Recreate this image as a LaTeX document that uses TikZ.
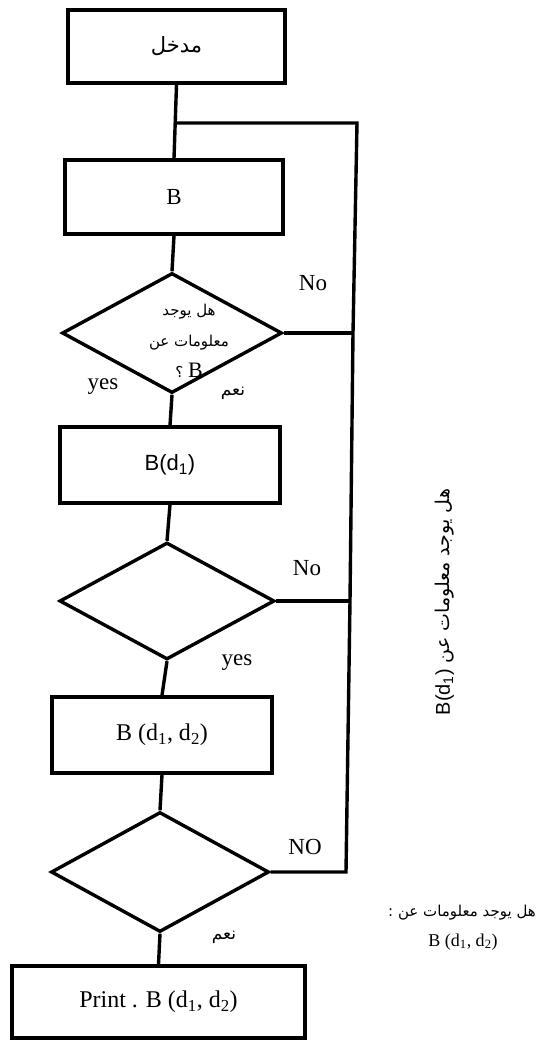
\documentclass[tikz,border=0pt]{standalone}
\usepackage{fontspec}
\setmainfont{Liberation Serif}
\newfontfamily\arabicfont[Script=Arabic]{DejaVu Sans}
\newfontfamily\sansfont{Liberation Sans}
\TeXXeTstate=1
\usetikzlibrary{shapes.geometric}
\begin{document}
\begin{tikzpicture}[x=1pt,y=-1pt,line width=3.4pt,line join=miter,
  box/.style={draw,rectangle,inner sep=0pt,font=\fontsize{24}{28}\selectfont},
  dia/.style={draw,diamond,inner sep=0pt},
  lbl/.style={inner sep=0pt,font=\fontsize{23}{27}\selectfont},
  ar/.style={inner sep=0pt,font=\arabicfont\fontsize{17}{22}\selectfont}]
\useasboundingbox (0,0) rectangle (539,1046);
% boxes
\node[box,minimum width=217pt,minimum height=73pt] (in) at (176.5,46.5) {\arabicfont\fontsize{21}{24}\selectfont\beginR مدخل\endR};
\node[box,minimum width=218pt,minimum height=74pt] (b) at (174,197) {\fontsize{23}{27}\selectfont B};
\node[dia,minimum width=220pt,minimum height=120pt] (d1) at (172,333) {};
\node[box,minimum width=220pt,minimum height=76pt] (b1) at (170,465) {\sansfont\fontsize{22}{26}\selectfont B(d\textsubscript{1})};
\node[dia,minimum width=215pt,minimum height=117pt] (d2) at (167,601) {};
\node[box,minimum width=220pt,minimum height=76pt] (b2) at (162,735) {B (d\textsubscript{1}, d\textsubscript{2})};
\node[dia,minimum width=218pt,minimum height=120pt] (d3) at (160,872) {};
\node[box,minimum width=293pt,minimum height=72pt] (pr) at (158.5,1002) {Print . B (d\textsubscript{1}, d\textsubscript{2})};
% diamond text
\node[align=center,inner sep=0pt,font=\arabicfont\fontsize{15}{31}\selectfont] (q1) at (189,341)
  {\beginR هل يوجد\endR\\\beginR معلومات عن\endR\\\beginR{\rmfamily\fontsize{22}{31}\selectfont B} ؟\endR};
% labels
\node[lbl] (no1) at (313,283) {No};
\node[lbl] (yes1) at (103,387) {yes};
\node[ar] (nam1) at (233,393) {\beginR نعم\endR};
\node[lbl] (no2) at (307,568) {No};
\node[lbl] (yes2) at (237,663) {yes};
\node[lbl] (no3) at (305,847) {NO};
\node[ar] (nam3) at (224,937) {\beginR نعم\endR};
\node[ar,font=\arabicfont\fontsize{19}{22}\selectfont,rotate=90,anchor=west] (side) at (445,717) {\beginR هل يوجد معلومات عن \beginL{\sansfont\fontsize{20}{24}\selectfont B(d\textsubscript{1})}\endL\endR};
\node[ar,font=\arabicfont\fontsize{15}{18}\selectfont] (q3a) at (462,913) {\beginR هل يوجد معلومات عن :\endR};
\node[lbl,font=\fontsize{18}{20}\selectfont] (q3b) at (463,942) {B (d\textsubscript{1}, d\textsubscript{2})};
% connectors
\coordinate (rt) at (357,123);
\coordinate (j1) at (353,333);
\coordinate (j2) at (350,601);
\coordinate (j3) at (346,872);
\draw (in.south) -- coordinate[pos=0.52] (lj) (b.north);
\draw (b.south) -- (d1.north);
\draw (d1.south) -- (b1.north);
\draw (b1.south) -- (d2.north);
\draw (d2.south) -- (b2.north);
\draw (b2.south) -- (d3.north);
\draw (d3.south) -- (pr.north);
\draw (d3.east) -- (j3) -- (j2) -- (j1) -- (lj -| rt) -- (lj);
\draw (d1.east) -- (j1);
\draw (d2.east) -- (j2);
\end{tikzpicture}
\end{document}
